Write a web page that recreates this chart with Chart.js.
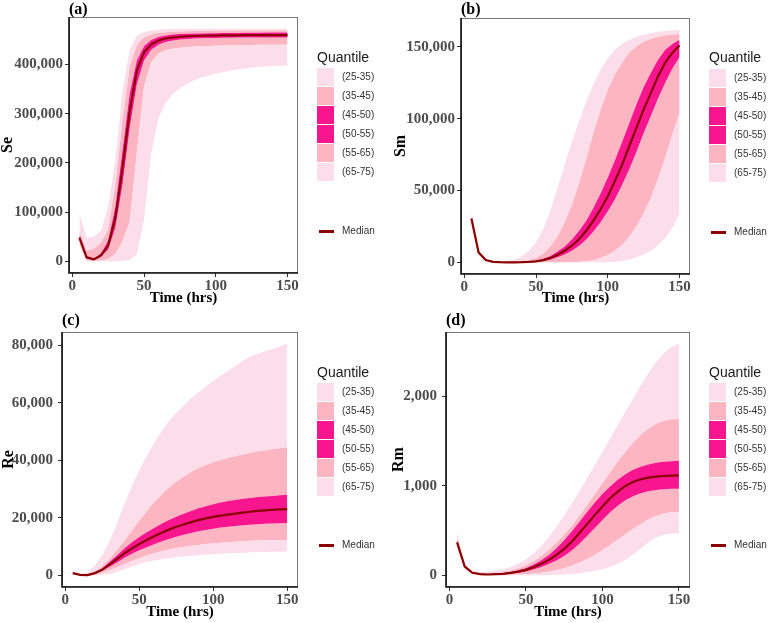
<!DOCTYPE html>
<html><head><meta charset="utf-8">
<script src="https://cdn.jsdelivr.net/npm/chart.js@4.4.1/dist/chart.umd.min.js"></script>
<style>
html,body{margin:0;padding:0;background:#fff;}
#wrap{position:relative;width:768px;height:623px;overflow:hidden;background:#fff;}
.panel{position:absolute;width:384px;height:311px;}
.panel canvas{position:absolute;left:0;top:0;}
.tag{position:absolute;font:bold 16px "Liberation Serif","Times New Roman",serif;line-height:16px;color:#000;white-space:nowrap;}
.qt{position:absolute;font:14px "Liberation Sans",Arial,sans-serif;line-height:16px;color:#1a1a1a;white-space:nowrap;}
.key{position:absolute;width:17px;height:18px;}
.kl{position:absolute;font:10px "Liberation Sans",Arial,sans-serif;line-height:18px;color:#333;white-space:nowrap;}
.ml{position:absolute;height:3px;width:15px;background:#8B0000;}
</style></head>
<body><div id="wrap"></div>
<script>
// ---------- data ----------
const TIMES = [5,10,15,20,25,30,35,40,45,50,55,60,65,70,75,80,85,90,95,100,105,110,115,120,125,130,135,140,145,150];
const X_TICKS = [0,50,100,150];

// (a) Se
const SE_Q25 = [30000,0,0,0,0,0,1000,3000,15000,85000,220000,290000,322000,340000,352000,361000,368000,374000,378000,382000,385000,388000,390000,392000,393500,395000,396000,397000,397500,398000];
const SE_Q35 = [36000,2000,500,1000,5000,15000,40000,80000,220000,355000,405000,422000,429000,432000,434000,435500,436500,437000,437500,438000,438500,439000,439000,439500,439500,440000,440000,440000,440000,440000];
const SE_Q45 = [44000,6000,3000,9000,24000,68000,155000,270000,360000,408000,430000,440000,446000,449000,451000,452000,453000,453500,454000,454000,454500,454500,455000,455000,455000,455000,455000,455000,455000,455000];
const SE_MED = [48000,8000,4000,12000,32000,88000,190000,305000,388000,425000,441000,449000,453000,455000,456500,457500,458000,458500,459000,459000,459500,459500,459500,460000,460000,460000,460000,460000,460000,460000];
const SE_Q55 = [52000,11000,6000,16000,42000,110000,225000,340000,408000,437000,450000,456000,459000,461000,462000,462500,463000,463000,463500,463500,464000,464000,464000,464500,464500,464500,465000,465000,465000,465000];
const SE_Q65 = [62000,22000,25000,38000,65000,155000,285000,395000,440000,455000,461000,464000,465500,466500,467000,467500,468000,468000,468000,468500,468500,468500,469000,469000,469000,469000,469000,469000,469000,469000];
const SE_Q75 = [98000,48000,50000,62000,110000,205000,345000,430000,458000,466000,469000,471000,472000,472500,473000,473000,473000,473000,473000,473000,473000,473000,473000,473000,473000,473000,473000,473000,473000,473000];
const SE_TICKS = [0,100000,200000,300000,400000];

// (b) Sm
const SM_Q25 = [27000,5500,1000,50,0,0,0,0,0,0,0,0,0,0,0,0,0,0,0,200,500,1000,2000,3500,5500,8000,12000,17000,24000,34000];
const SM_Q35 = [28000,6000,1100,100,0,0,0,0,0,0,0,50,100,150,200,300,800,1500,3000,5000,8000,12000,18000,25000,34000,45000,58000,73000,89000,104000];
const SM_Q45 = [29000,6300,1300,200,50,20,20,50,150,300,800,1800,3500,5500,8000,11500,16000,21500,28000,35500,44000,54000,65000,77000,90000,102000,114000,125000,135000,143000];
const SM_MED = [30500,6900,1600,300,100,50,50,100,300,700,1600,3000,5300,8100,11600,16200,22000,29000,37000,46000,56700,68000,81000,93800,106500,118000,129600,139000,146000,151000];
const SM_Q55 = [32000,7500,2000,400,150,100,100,200,500,1200,2500,4500,7500,11000,16000,22000,29000,38000,48000,59000,71000,84000,97000,110000,122000,132000,141000,148000,152000,155000];
const SM_Q65 = [33000,8000,2200,500,250,200,300,500,1500,3000,6000,11000,18000,28000,40000,55000,72000,90000,106000,120000,131000,139000,146000,150500,153500,155500,157000,158000,158500,159000];
const SM_Q75 = [36000,9000,2500,600,500,1000,2000,4000,8000,14000,23000,36000,52000,68000,84000,98000,112000,124000,134000,142000,148000,152000,155000,157000,158500,159500,160500,161000,161500,162000];
const SM_TICKS = [0,50000,100000,150000];

// (c) Re
const RE_Q25 = [500,50,0,0,200,500,1200,2100,3100,4000,4700,5200,5600,6000,6300,6600,6800,7000,7200,7400,7550,7700,7800,7900,8000,8100,8150,8200,8250,8300];
const RE_Q35 = [600,100,0,300,900,1800,2800,3900,5000,6000,6900,7700,8400,9000,9500,9900,10300,10600,10900,11100,11300,11500,11700,11850,12000,12100,12200,12300,12300,12300];
const RE_Q45 = [700,150,50,600,1600,3000,4500,6100,7500,8700,9800,10800,11800,12600,13400,14100,14700,15300,15800,16200,16600,16900,17200,17400,17600,17800,17900,18000,18100,18200];
const RE_MED = [800,200,100,800,2000,3800,5700,7700,9400,10900,12300,13600,14800,15900,16900,17700,18500,19200,19800,20300,20750,21100,21450,21800,22100,22400,22600,22800,22900,23000];
const RE_Q55 = [900,300,200,1000,2500,4700,7000,9400,11500,13300,15000,16500,17900,19200,20400,21400,22400,23300,24000,24700,25300,25800,26200,26600,26900,27200,27400,27600,27800,28000];
const RE_Q65 = [1000,400,400,1300,3200,5800,8800,12000,15500,19000,22300,25300,28000,30400,32500,34300,35900,37200,38300,39300,40100,40800,41400,42000,42500,43000,43400,43800,44200,44500];
const RE_Q75 = [1200,600,1200,3500,7000,12000,18000,25000,31000,36500,41500,46000,50000,53500,56500,59000,61500,63500,65500,67500,69300,71000,72800,74500,76000,77000,77800,78500,79500,80500];
const RE_TICKS = [0,20000,40000,60000,80000];

// (d) Rm
const RM_Q25 = [300,70,10,2,1,1,1,1,2,2,3,4,5,8,12,18,26,38,52,70,95,130,175,235,300,370,425,455,468,474];
const RM_Q35 = [330,85,20,8,5,5,6,8,11,15,21,30,42,58,80,108,142,183,230,283,340,400,460,520,575,625,665,692,705,710];
const RM_Q45 = [345,92,25,12,8,11,14,22,32,46,68,96,128,168,218,280,355,440,530,620,705,780,840,885,918,940,955,963,968,970];
const RM_MED = [370,100,30,15,11,15,18,30,44,63,93,130,174,230,296,378,474,574,674,770,863,937,1000,1044,1074,1093,1104,1111,1115,1118];
const RM_Q55 = [400,110,35,18,14,18,24,38,58,85,122,170,230,305,395,495,600,710,815,910,995,1070,1130,1180,1215,1240,1258,1270,1277,1282];
const RM_Q65 = [420,115,40,25,22,28,38,55,80,115,160,215,285,365,455,555,665,785,905,1030,1150,1270,1380,1480,1570,1640,1695,1725,1742,1748];
const RM_Q75 = [480,130,50,40,45,55,70,95,130,180,245,330,430,545,670,800,940,1085,1230,1380,1530,1680,1830,1975,2120,2260,2380,2480,2550,2590];
const RM_TICKS = [0,1000,2000];

const LEGEND_LABELS = ['(25-35)','(35-45)','(45-50)','(50-55)','(55-65)','(65-75)'];
const PANEL_TAGS = ['(a)','(b)','(c)','(d)'];
const Y_TITLES = ['Se','Sm','Re','Rm'];
const X_TITLE = 'Time (hrs)';

// ---------- styles ----------
const LIGHT = '#FCDDEA', MID = '#FDB6C1', DEEP = '#F8168F', MEDIAN = '#8B0000';
const LEGEND_COLORS = [LIGHT, MID, DEEP, DEEP, MID, LIGHT];
const BAND_COLORS = [LIGHT, MID, DEEP, DEEP, MID, LIGHT];

const PANELS = [
  {series:[SE_Q25,SE_Q35,SE_Q45,SE_MED,SE_Q55,SE_Q65,SE_Q75], yTicks:SE_TICKS},
  {series:[SM_Q25,SM_Q35,SM_Q45,SM_MED,SM_Q55,SM_Q65,SM_Q75], yTicks:SM_TICKS},
  {series:[RE_Q25,RE_Q35,RE_Q45,RE_MED,RE_Q55,RE_Q65,RE_Q75], yTicks:RE_TICKS},
  {series:[RM_Q25,RM_Q35,RM_Q45,RM_MED,RM_Q55,RM_Q65,RM_Q75], yTicks:RM_TICKS}
];
// layout (panel-local pixels)
const LAYOUT = [
  {ox:0,   oy:0,   L:69, R:298, T:17, B:273, tpad:2, xtb:3.5, ytp:-1.5, lx:317, qy:57, ky:68, my:231},
  {ox:384, oy:0,   L:77, R:306, T:18, B:274, tpad:2, xtb:3.5, ytp:7,    lx:325, qy:57, ky:69, my:232},
  {ox:0,   oy:311, L:62, R:298, T:21, B:276, tpad:5, xtb:1,   ytp:-0.5, lx:317, qy:61, ky:72, my:234},
  {ox:384, oy:311, L:62, R:306, T:21, B:276, tpad:5, xtb:1,   ytp:5.5,  lx:325, qy:61, ky:72, my:234}
];

const frame = {
  id:'frame',
  afterDraw(chart){
    const {ctx, chartArea:a} = chart;
    ctx.save();
    ctx.strokeStyle = '#777'; ctx.lineWidth = 1;
    ctx.strokeRect(Math.round(a.left)+0.5, Math.round(a.top)+0.5, Math.round(a.right-a.left)-1, Math.round(a.bottom-a.top)-1);
    ctx.strokeStyle = '#111'; ctx.lineWidth = 1.6;
    ctx.beginPath();
    ctx.moveTo(a.left, a.top); ctx.lineTo(a.left, a.bottom); ctx.lineTo(a.right, a.bottom);
    ctx.stroke();
    ctx.restore();
  }
};

const wrap = document.getElementById('wrap');
const serif = '"Liberation Serif","Times New Roman",serif';

PANELS.forEach((p, idx) => {
  const Lo = LAYOUT[idx];
  const div = document.createElement('div');
  div.className = 'panel';
  div.style.left = Lo.ox + 'px'; div.style.top = Lo.oy + 'px';
  wrap.appendChild(div);
  const cv = document.createElement('canvas');
  cv.width = 384; cv.height = 311;
  div.appendChild(cv);

  const all = p.series.flat();
  const lo = Math.min(...all), hi = Math.max(...all);
  const ext = (hi - lo) * 0.05;
  const tMin = Math.min(...TIMES), tMax = Math.max(...TIMES);
  const tExt = (tMax - tMin) * 0.05;

  const datasets = p.series.map((s, i) => ({
    label: i === 3 ? 'Median' : 'q' + i,
    data: TIMES.map((t, k) => ({x: t, y: s[k]})),
    fill: i === 0 ? false : '-1',
    backgroundColor: i === 0 ? 'rgba(0,0,0,0)' : BAND_COLORS[i-1],
    borderColor: i === 3 ? MEDIAN : 'rgba(0,0,0,0)',
    borderWidth: i === 3 ? 2.2 : 0,
    pointRadius: 0,
    tension: 0,
    order: i === 3 ? 0 : 1
  }));

  new Chart(cv, {
    type: 'line',
    data: {datasets},
    plugins: [frame],
    options: {
      responsive: false, animation: false, devicePixelRatio: 1,
      layout: {padding: {left: 0, top: Lo.T, right: 384 - Lo.R, bottom: 0}},
      plugins: {legend: {display: false}, tooltip: {enabled: false},
                filler: {propagate: false, drawTime: 'beforeDatasetsDraw'}},
      scales: {
        x: {
          type: 'linear', min: tMin - tExt, max: tMax + tExt,
          afterBuildTicks: s => { s.ticks = X_TICKS.map(v => ({value: v})); },
          afterFit: s => { s.height = 311 - Lo.B; },
          border: {display: false},
          grid: {display: true, drawOnChartArea: false, drawTicks: true, tickLength: 4, color: '#333'},
          ticks: {font: {family: serif, size: 15, weight: 'bold'}, color: '#4d4d4d', padding: 0,
                  autoSkip: false, maxRotation: 0, callback: v => String(v)},
          title: {display: true, text: X_TITLE, font: {family: serif, size: 15, weight: 'bold'},
                  color: '#000', padding: {top: 0, bottom: Lo.xtb}}
        },
        y: {
          type: 'linear', min: lo - ext, max: hi + ext,
          afterBuildTicks: s => { s.ticks = p.yTicks.map(v => ({value: v})); },
          afterFit: s => { s.width = Lo.L; },
          border: {display: false},
          grid: {display: true, drawOnChartArea: false, drawTicks: true, tickLength: 4, color: '#333'},
          ticks: {font: {family: serif, size: 15, weight: 'bold'}, color: '#4d4d4d', padding: Lo.tpad,
                  autoSkip: false, callback: v => Number(v).toLocaleString('en-US')},
          title: {display: true, text: Y_TITLES[idx], font: {family: serif, size: 16, weight: 'bold'},
                  color: '#000', padding: {top: Lo.ytp, bottom: 0}}
        }
      }
    }
  });

  // panel tag
  const tag = document.createElement('div');
  tag.className = 'tag'; tag.textContent = PANEL_TAGS[idx];
  tag.style.left = Lo.L + 'px'; tag.style.top = '1px';
  div.appendChild(tag);

  // legend
  const qt = document.createElement('div');
  qt.className = 'qt'; qt.textContent = 'Quantile';
  qt.style.left = Lo.lx + 'px'; qt.style.top = (Lo.qy - 8) + 'px';
  div.appendChild(qt);
  LEGEND_LABELS.forEach((lab, j) => {
    const k = document.createElement('div');
    k.className = 'key'; k.style.background = LEGEND_COLORS[j];
    k.style.left = Lo.lx + 'px'; k.style.top = (Lo.ky + j*19) + 'px';
    div.appendChild(k);
    const t = document.createElement('div');
    t.className = 'kl'; t.textContent = lab;
    t.style.left = (Lo.lx + 25) + 'px'; t.style.top = (Lo.ky + j*19) + 'px';
    div.appendChild(t);
  });
  const ml = document.createElement('div');
  ml.className = 'ml'; ml.style.left = (Lo.lx + 2) + 'px'; ml.style.top = (Lo.my - 1.5) + 'px';
  div.appendChild(ml);
  const mt = document.createElement('div');
  mt.className = 'kl'; mt.textContent = 'Median';
  mt.style.left = (Lo.lx + 25) + 'px'; mt.style.top = (Lo.my - 9) + 'px';
  div.appendChild(mt);
});
</script>
</body></html>
